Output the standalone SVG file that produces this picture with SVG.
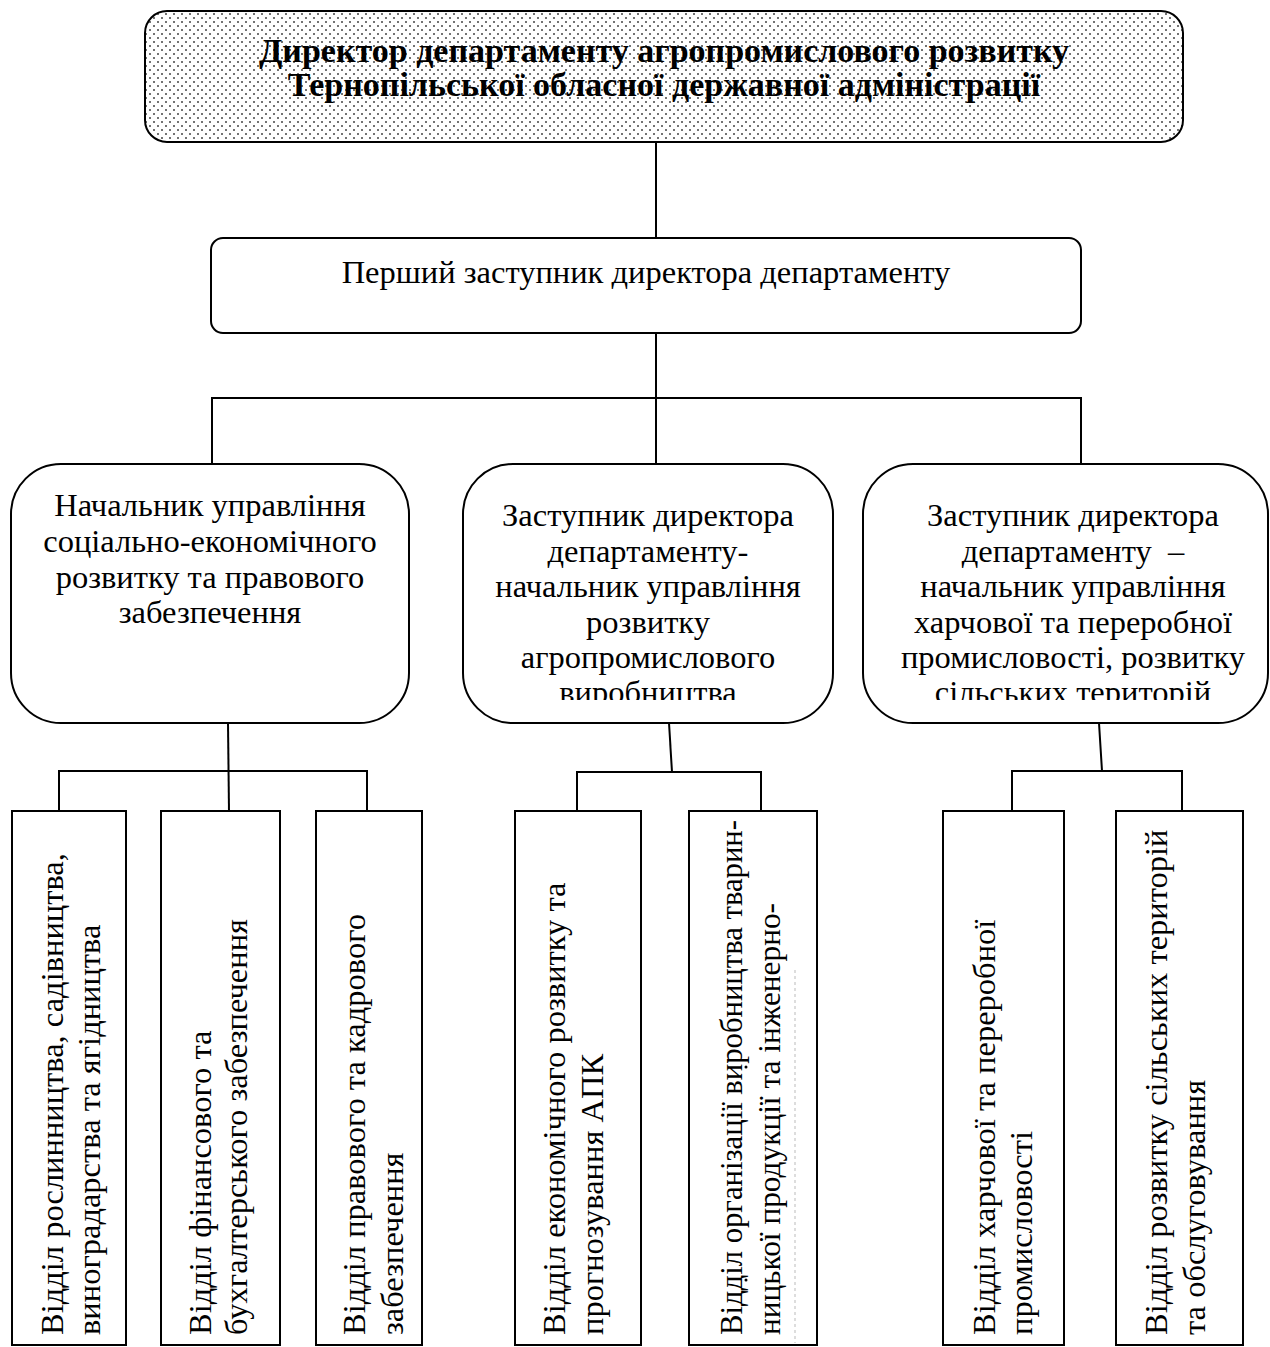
<svg xmlns="http://www.w3.org/2000/svg" width="1270" height="1347" viewBox="0 0 1270 1347">
<defs>
<pattern id="dots" width="8" height="8" patternUnits="userSpaceOnUse">
<rect width="8" height="8" fill="#fff"/>
<circle cx="2" cy="2" r="1" fill="#444"/>
<circle cx="6" cy="6" r="1" fill="#444"/>
</pattern>
<clipPath id="clipTop"><rect x="0" y="0" width="1270" height="700"/></clipPath>
</defs>
<style>
.box{fill:#fff;stroke:#000;stroke-width:2}
.t{font-family:"Liberation Serif","Times New Roman",serif;font-size:32.5px;fill:#000;text-anchor:middle}
.v{font-family:"Liberation Serif","Times New Roman",serif;font-size:32.5px;fill:#000}
.b{font-family:"Liberation Serif","Times New Roman",serif;font-size:34px;font-weight:bold;fill:#000;text-anchor:middle}
.c{fill:none;stroke:#000;stroke-width:2}
</style>
<g id="connectors">
<line class="c" x1="656" y1="142" x2="656" y2="238"/>
<line class="c" x1="656" y1="333" x2="656" y2="464"/>
<polyline class="c" points="212,464 212,398 1081,398 1081,464"/>
<line class="c" x1="228" y1="723" x2="229" y2="811"/>
<polyline class="c" points="59,811 59,771 367,771 367,811"/>
<line class="c" x1="669" y1="723" x2="672" y2="772"/>
<polyline class="c" points="577,811 577,772 761,772 761,811"/>
<line class="c" x1="1099" y1="723" x2="1102" y2="771"/>
<polyline class="c" points="1012,811 1012,771 1182,771 1182,811"/>
</g>
<g id="director">
<rect x="145" y="11" width="1038" height="131" rx="22" ry="22" fill="url(#dots)" stroke="#000" stroke-width="2"/>
<text class="b" x="664" y="62">Директор департаменту агропромислового розвитку</text>
<text class="b" x="664" y="96">Тернопільської обласної державної адміністрації</text>
</g>
<g id="first-deputy">
<rect class="box" x="211" y="238" width="870" height="95" rx="12" ry="12"/>
<text class="t" x="646" y="283">Перший заступник директора департаменту</text>
</g>
<g id="head-social">
<rect class="box" x="11" y="464" width="398" height="259" rx="50" ry="50"/>
<text class="t" x="210" y="516">Начальник управління</text>
<text class="t" x="210" y="552">соціально-економічного</text>
<text class="t" x="210" y="588">розвитку та правового</text>
<text class="t" x="210" y="623">забезпечення</text>
</g>
<g id="deputy-agro">
<rect class="box" x="463" y="464" width="370" height="259" rx="50" ry="50"/>
<g clip-path="url(#clipTop)">
<text class="t" x="648" y="526">Заступник директора</text>
<text class="t" x="648" y="562">департаменту-</text>
<text class="t" x="648" y="597">начальник управління</text>
<text class="t" x="648" y="633">розвитку</text>
<text class="t" x="648" y="668">агропромислового</text>
<text class="t" x="648" y="703">виробництва</text>
</g>
</g>
<g id="deputy-food">
<rect class="box" x="863" y="464" width="405" height="259" rx="50" ry="50"/>
<g clip-path="url(#clipTop)">
<text class="t" x="1073" y="526">Заступник директора</text>
<text class="t" x="1073" y="562">департаменту&#160; –</text>
<text class="t" x="1073" y="597">начальник управління</text>
<text class="t" x="1073" y="633">харчової та переробної</text>
<text class="t" x="1073" y="668">промисловості, розвитку</text>
<text class="t" x="1073" y="703">сільських територій</text>
</g>
</g>
<g id="dept-crops">
<rect class="box" x="12" y="811" width="114" height="534"/>
<text class="v" transform="translate(63,1335) rotate(-90)">Відділ рослинництва, садівництва,</text>
<text class="v" transform="translate(100,1335) rotate(-90)">виноградарства та ягідництва</text>
</g>
<g id="dept-finance">
<rect class="box" x="161" y="811" width="119" height="534"/>
<text class="v" transform="translate(211,1335) rotate(-90)">Відділ фінансового та</text>
<text class="v" transform="translate(247,1335) rotate(-90)">бухгалтерського забезпечення</text>
</g>
<g id="dept-legal">
<rect class="box" x="316" y="811" width="106" height="534"/>
<text class="v" transform="translate(365,1335) rotate(-90)">Відділ правового та кадрового</text>
<text class="v" transform="translate(403,1335) rotate(-90)">забезпечення</text>
</g>
<g id="dept-economy">
<rect class="box" x="515" y="811" width="126" height="534"/>
<text class="v" transform="translate(565,1335) rotate(-90)">Відділ економічного розвитку та</text>
<text class="v" transform="translate(603,1335) rotate(-90)">прогнозування АПК</text>
</g>
<g id="dept-livestock">
<rect class="box" x="689" y="811" width="128" height="534"/>
<text class="v" transform="translate(742,1335) rotate(-90)" textLength="515" lengthAdjust="spacingAndGlyphs">Відділ організації виробництва тварин-</text>
<text class="v" transform="translate(780,1335) rotate(-90)" textLength="432" lengthAdjust="spacingAndGlyphs">ницької продукції та інженерно-</text>
<line x1="795" y1="970" x2="795" y2="1343" stroke="#bbb" stroke-width="1" stroke-dasharray="3,3"/>
<circle cx="746" cy="1280" r="1.5" fill="#000"/>
<circle cx="746" cy="1067" r="1.5" fill="#000"/>
</g>
<g id="dept-food">
<rect class="box" x="943" y="811" width="121" height="534"/>
<text class="v" transform="translate(995,1335) rotate(-90)">Відділ харчової та переробної</text>
<text class="v" transform="translate(1032,1335) rotate(-90)">промисловості</text>
</g>
<g id="dept-rural">
<rect class="box" x="1116" y="811" width="127" height="534"/>
<text class="v" transform="translate(1167,1335) rotate(-90)">Відділ розвитку сільських територій</text>
<text class="v" transform="translate(1205,1335) rotate(-90)">та обслуговування</text>
</g>
</svg>
